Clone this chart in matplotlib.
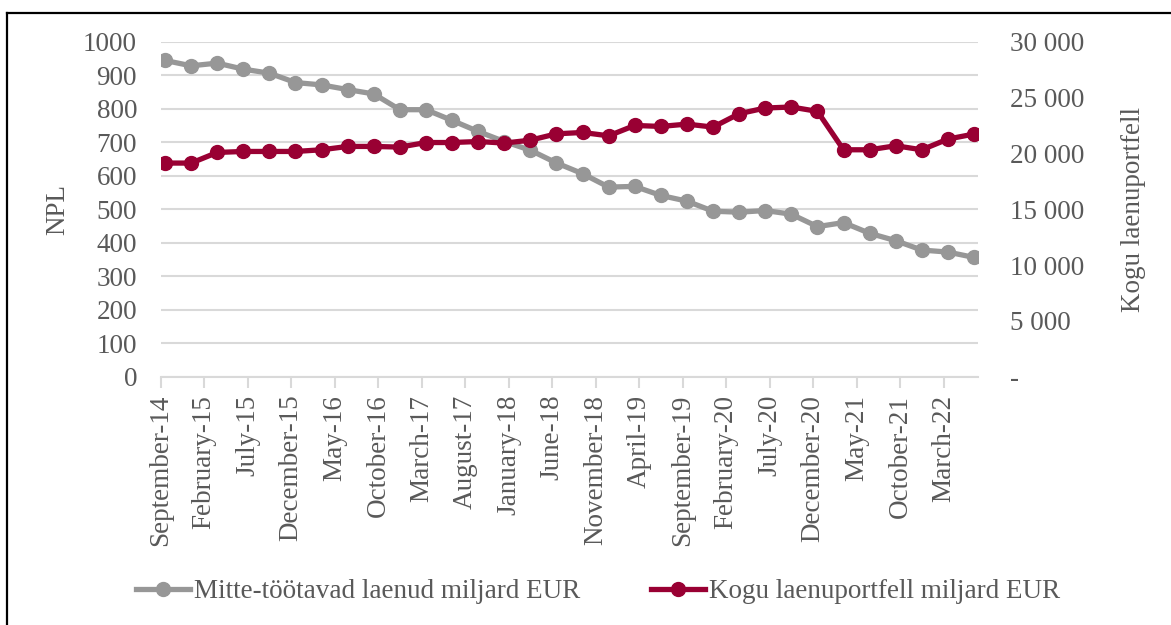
import matplotlib
matplotlib.use("Agg")
import matplotlib.pyplot as plt
from matplotlib.lines import Line2D
from matplotlib.ticker import FuncFormatter

# quarter-end months, Sep 2014 .. Jun 2022
quarters = [
    "2014-09", "2014-12", "2015-03", "2015-06", "2015-09", "2015-12",
    "2016-03", "2016-06", "2016-09", "2016-12", "2017-03", "2017-06",
    "2017-09", "2017-12", "2018-03", "2018-06", "2018-09", "2018-12",
    "2019-03", "2019-06", "2019-09", "2019-12", "2020-03", "2020-06",
    "2020-09", "2020-12", "2021-03", "2021-06", "2021-09", "2021-12",
    "2022-03", "2022-06",
]
npl = [944, 928, 936, 918, 906, 878, 871, 857, 844, 797, 797, 765,
       732, 702, 676, 638, 606, 566, 568, 541, 524, 494, 491, 496,
       485, 448, 460, 428, 406, 378, 372, 356]
portfolio = [19130, 19130, 20080, 20170, 20170, 20170, 20320, 20620,
             20620, 20560, 20970, 20970, 21060, 20920, 21180, 21750,
             21870, 21570, 22500, 22410, 22620, 22350, 23550, 24060,
             24150, 23760, 20320, 20320, 20680, 20320, 21280, 21730]

tick_labels = ["September-14", "February-15", "July-15", "December-15",
               "May-16", "October-16", "March-17", "August-17", "January-18",
               "June-18", "November-18", "April-19", "September-19",
               "February-20", "July-20", "December-20", "May-21",
               "October-21", "March-22"]

gray = "#979797"
wine = "#990033"
txt = "#595959"
grid = "#d9d9d9"


def month_index(s):
    y, m = s.split("-")
    return (int(y) - 2014) * 12 + int(m) - 9


# monthly date axis: each point sits in the middle of its month slot
x = [month_index(q) + 0.5 for q in quarters]
n_months = month_index(quarters[-1]) + 1

plt.rcParams["font.family"] = ["Liberation Serif", "DejaVu Serif"]
fs = 19.5

fig = plt.figure(figsize=(11.71, 6.25), dpi=100)
ax = fig.add_axes([0.1372, 0.3973, 0.8355 - 0.1372, 0.9333 - 0.3973])
ax2 = ax.twinx()

ax.set_xlim(0, n_months)
ax.set_ylim(0, 1000)
ax.set_yticks(range(0, 1001, 100))
ax2.set_ylim(0, 30000)
ax2.set_yticks(range(0, 30001, 5000))

ax.grid(axis="y", color=grid, linewidth=1.5)
ax.set_axisbelow(True)

ax.plot(x, npl, color=gray, linewidth=3.8, marker="o", markersize=10,
        solid_joinstyle="round", zorder=3)
ax2.plot(x, portfolio, color=wine, linewidth=3.8, marker="o", markersize=10,
         solid_joinstyle="round", zorder=3)

ax.set_xticks(range(0, 5 * len(tick_labels), 5))
ax.set_xticklabels(tick_labels, rotation=90)

for a in (ax, ax2):
    for sp in a.spines.values():
        sp.set_visible(False)
ax.spines["bottom"].set_visible(True)
ax.spines["bottom"].set_color(grid)
ax.spines["bottom"].set_linewidth(1.5)

ax.tick_params(axis="x", colors=grid, length=8, width=1.5, labelcolor=txt,
               labelsize=fs, pad=5)
ax.tick_params(axis="y", length=0, labelcolor=txt, labelsize=fs, pad=17)
ax2.tick_params(axis="y", length=0, labelcolor=txt, labelsize=fs, pad=23)


def thousands(v, pos):
    if v == 0:
        return "-"
    return f"{int(v):,}".replace(",", " ")


ax2.yaxis.set_major_formatter(FuncFormatter(thousands))

ax.set_ylabel("NPL", color=txt, fontsize=fs, labelpad=9)
ax2.set_ylabel("Kogu laenuportfell", color=txt, fontsize=fs, labelpad=26)

handles = [
    Line2D([], [], color=gray, linewidth=3.8, marker="o", markersize=10),
    Line2D([], [], color=wine, linewidth=3.8, marker="o", markersize=10),
]
labels = ["Mitte-töötavad laenud miljard EUR", "Kogu laenuportfell miljard EUR"]
fig.legend(handles, labels, loc="center", ncol=2, frameon=False,
           bbox_to_anchor=(598 / 1171, 1 - 592 / 625), fontsize=fs,
           labelcolor=txt, handlelength=2.0, handletextpad=0.15,
           columnspacing=2.6)

# frame edges visible in the reference (top and left only)
fig.add_artist(Line2D([7 / 1171, 1], [1 - 13 / 625, 1 - 13 / 625],
                      color="black", linewidth=1.6, transform=fig.transFigure))
fig.add_artist(Line2D([7 / 1171, 7 / 1171], [0, 1 - 13 / 625],
                      color="black", linewidth=1.6, transform=fig.transFigure))

fig.savefig("out.png", dpi=100)
